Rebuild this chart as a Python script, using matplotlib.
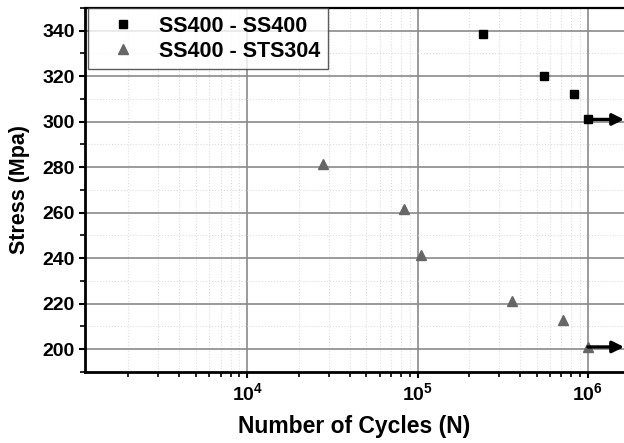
import matplotlib.pyplot as plt
from matplotlib.ticker import LogLocator, MultipleLocator, NullFormatter

plt.rcParams['font.family'] = ['Liberation Sans', 'DejaVu Sans']
plt.rcParams['font.weight'] = 'bold'
plt.rcParams['mathtext.default'] = 'bf'

# S-N data: cycles to failure and stress amplitude
cycles_ss400 = [2.43e5, 5.5e5, 8.3e5, 1.0e6]
stress_ss400 = [338.5, 320, 312, 301]

cycles_sts304 = [2.8e4, 8.3e4, 1.05e5, 3.57e5, 7.1e5, 1.0e6]
stress_sts304 = [281.5, 261.5, 241.5, 221.3, 213, 201]

# run-outs (no failure up to 1e6 cycles)
runout_cycles = 1.0e6
runout_stress = [301, 201]

fig = plt.figure(figsize=(6.24, 4.43), dpi=100)
ax = fig.add_axes([0.1362, 0.1603, 0.8638, 0.8217])

ax.set_xscale('log')
ax.set_xlim(1115, 1.63e6)
ax.set_ylim(190, 350)

ax.xaxis.set_major_locator(LogLocator(base=10, numticks=10))
ax.xaxis.set_minor_locator(LogLocator(base=10, subs=range(2, 10), numticks=20))
ax.xaxis.set_minor_formatter(NullFormatter())
ax.yaxis.set_major_locator(MultipleLocator(20))
ax.yaxis.set_minor_locator(MultipleLocator(10))

ax.grid(which='major', color='#8a8a8a', lw=1.2, ls='-')
ax.grid(which='minor', color='#dddddd', lw=0.8, ls=':')
ax.set_axisbelow(True)

ax.plot(cycles_ss400, stress_ss400, ls='none', marker='s', ms=6, color='black',
        label='SS400 - SS400', zorder=3)
ax.plot(cycles_sts304, stress_sts304, ls='none', marker='^', ms=7.5, color='#666666',
        label='SS400 - STS304', zorder=3)

for s in runout_stress:
    ax.annotate('', xy=(1.63e6, s), xytext=(runout_cycles, s),
                arrowprops=dict(arrowstyle='-|>', lw=2.4, color='black',
                                mutation_scale=17, shrinkA=0, shrinkB=0),
                annotation_clip=False, zorder=4)

ax.spines['right'].set_visible(False)
ax.spines['left'].set_linewidth(2)
ax.spines['bottom'].set_linewidth(2)
ax.spines['top'].set_linewidth(1.6)

ax.tick_params(which='major', direction='out', length=4.5, width=1.5,
               labelsize=14, pad=3)
ax.tick_params(which='minor', direction='out', length=3.5, width=1.2)
for lab in ax.get_xticklabels() + ax.get_yticklabels():
    lab.set_fontweight('bold')

ax.set_xlabel('Number of Cycles (N)', fontsize=16.5, fontweight='bold', labelpad=8)
ax.set_ylabel('Stress (Mpa)', fontsize=15.5, fontweight='bold', labelpad=9)

leg = ax.legend(loc='upper left', bbox_to_anchor=(0.005, 1.0), borderaxespad=0,
                frameon=True, fancybox=False, edgecolor='#333333',
                handletextpad=0.4, handlelength=2.55, labelspacing=0.2,
                borderpad=0.35, prop={'weight': 'bold', 'size': 15.5})
leg.get_frame().set_linewidth(1.0)

fig.savefig('out.png', dpi=100)
